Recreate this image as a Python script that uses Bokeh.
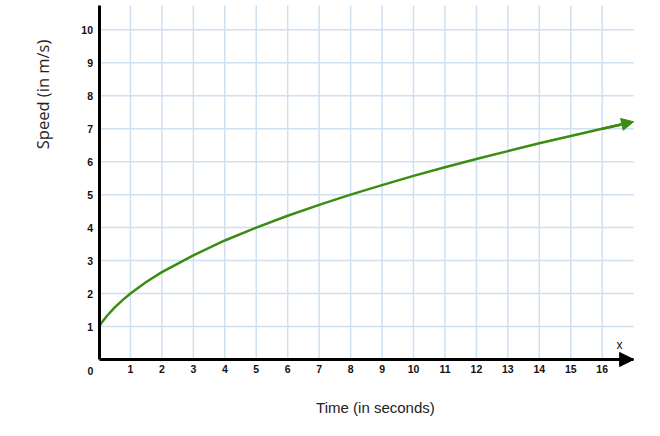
from bokeh.plotting import figure
from bokeh.models import Range1d, Arrow, NormalHead, Label, FixedTicker, LinearAxis
from bokeh.embed import file_html
from bokeh.resources import INLINE
import math

# Data
time_s = [0, 0.05, 0.1, 0.25, 0.5, 0.75, 1, 1.5, 2, 3, 4, 5, 6, 7, 8, 9, 10, 11, 12, 13, 14, 15, 16, 16.6, 17.0]
speed = [1.0, 1.07, 1.14, 1.32, 1.58, 1.80, 2.0, 2.35, 2.65, 3.16, 3.61, 4.0, 4.36, 4.69, 5.0, 5.29, 5.57, 5.83,
         6.08, 6.32, 6.56, 6.78, 7.0, 7.13, 7.21]
x_ticks = list(range(1, 17))
y_ticks = list(range(1, 11))
x_max = 17.0
y_max = 10.74

GREEN = "#3b8c12"
GRID = "#cfe0f1"
W, H = 650, 428

# frame covers the whole canvas; axes are placed at the data origin
p = figure(width=W, height=H, output_backend="svg", toolbar_location=None,
           x_range=Range1d(-3.132, 17.536), y_range=Range1d(-2.093, 10.889),
           x_axis_type=None, y_axis_type=None,
           min_border_left=0, min_border_right=0, min_border_top=0, min_border_bottom=0)
p.outline_line_color = None
p.background_fill_color = "white"
p.border_fill_color = "white"
p.xgrid.visible = False
p.ygrid.visible = False

# grid lines restricted to the data area
p.segment(x0=x_ticks, y0=[0] * len(x_ticks), x1=x_ticks, y1=[y_max] * len(x_ticks),
          line_color=GRID, line_width=1.5)
p.segment(x0=[0] * len(y_ticks), y0=y_ticks, x1=[x_max] * len(y_ticks), y1=y_ticks,
          line_color=GRID, line_width=1.5)

xax = LinearAxis(fixed_location=0, bounds=(0, x_max), ticker=FixedTicker(ticks=x_ticks))
yax = LinearAxis(fixed_location=0, bounds=(0, y_max), ticker=FixedTicker(ticks=y_ticks))
for ax in (xax, yax):
    ax.axis_line_color = "black"
    ax.axis_line_width = 3
    ax.major_tick_line_color = None
    ax.minor_tick_line_color = None
    ax.major_tick_in = 0
    ax.major_tick_out = 0
    ax.major_label_text_font = "Liberation Sans"
    ax.major_label_text_font_style = "bold"
    ax.major_label_text_font_size = "10.5px"
    ax.major_label_text_color = "#111111"
    ax.major_label_standoff = 6
p.add_layout(xax, "below")
p.add_layout(yax, "left")

# curve
p.line(time_s[:-1], speed[:-1], line_color=GREEN, line_width=2.5)
p.add_layout(Arrow(end=NormalHead(size=12, fill_color=GREEN, line_color=GREEN),
                   x_start=time_s[-3], y_start=speed[-3], x_end=time_s[-1], y_end=speed[-1],
                   line_color=GREEN, line_width=2.5))

# x-axis arrow
p.add_layout(Arrow(end=NormalHead(size=14, fill_color="black", line_color="black"),
                   x_start=16.2, y_start=0, x_end=x_max, y_end=0,
                   line_color="black", line_width=3))

p.add_layout(Label(x=16.55, y=0.22, text="x", text_font="Liberation Sans", text_font_size="12px",
                   text_align="center", text_baseline="bottom", text_color="#111111"))
p.add_layout(Label(x=-0.27, y=-0.36, text="0", text_font="Liberation Sans", text_font_style="bold",
                   text_font_size="10.5px", text_align="center", text_baseline="middle",
                   text_color="#111111"))
p.add_layout(Label(x=8.79, y=-1.456, text="Time (in seconds)", text_font="Liberation Sans",
                   text_font_size="15px", text_align="center", text_baseline="middle",
                   text_color="#222222"))
p.add_layout(Label(x=-1.79, y=8.04, text="Speed (in m/s)", text_font="Open Sans",
                   text_font_size="16.5px", angle=math.pi / 2, text_align="center",
                   text_baseline="middle", text_color="#222222"))

open("out.html", "w").write(file_html(p, INLINE))
